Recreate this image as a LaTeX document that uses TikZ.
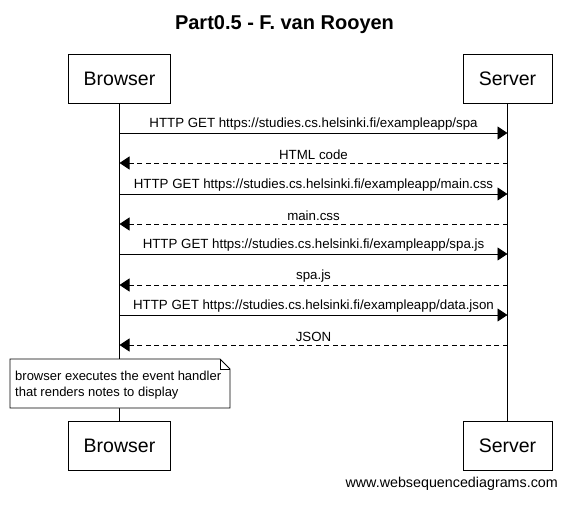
\documentclass[tikz,border=0pt]{standalone}
\usepackage{fontspec}
\setmainfont{Liberation Sans}
\usetikzlibrary{arrows.meta}
\usetikzlibrary{positioning}
\usetikzlibrary{shapes}

\begin{document}
\begin{tikzpicture}[x=1pt,y=-1pt,
    actor/.style={draw,line width=0.9pt,minimum height=49pt,inner sep=0pt,font=\fontsize{19.5}{23}\selectfont},
    msg/.style={line width=0.9pt,-{Triangle[length=10pt,width=13pt]}},
    reply/.style={msg,dash pattern=on 5pt off 3.5pt},
    mlabel/.style={above,inner sep=2.5pt,font=\fontsize{13.3}{15}\selectfont}]
  \useasboundingbox (0,0) rectangle (567,504);
  % title
  \node[anchor=base,inner sep=0pt,font=\bfseries\fontsize{20}{24}\selectfont] (title) at (284.5,29.5) {Part0.5 - F. van Rooyen};
  % actors
  \node[actor,minimum width=102pt] (bt) at (119.5,78.5) {Browser};
  \node[actor,minimum width=89pt] (st) at (507.5,78.5) {Server};
  \node[actor,minimum width=102pt] (bb) at (119.5,445.5) {Browser};
  \node[actor,minimum width=89pt] (sb) at (507.5,445.5) {Server};
  \draw[line width=0.9pt] (bt) -- (bb);
  \draw[line width=0.9pt] (st) -- (sb);
  % message points on the lifelines
  \foreach \i/\y in {1/133,2/163,3/194,4/224,5/254,6/285,7/315,8/345}{
    \coordinate (b\i) at (119.5,\y);
    \coordinate (s\i) at (507.5,\y);
  }
  \draw[msg] (b1) -- node[mlabel] {HTTP GET https://studies.cs.helsinki.fi/exampleapp/spa} (s1);
  \draw[reply] (s2) -- node[mlabel] {HTML code} (b2);
  \draw[msg] (b3) -- node[mlabel] {HTTP GET https://studies.cs.helsinki.fi/exampleapp/main.css} (s3);
  \draw[reply] (s4) -- node[mlabel] {main.css} (b4);
  \draw[msg] (b5) -- node[mlabel] {HTTP GET https://studies.cs.helsinki.fi/exampleapp/spa.js} (s5);
  \draw[reply] (s6) -- node[mlabel] {spa.js} (b6);
  \draw[msg] (b7) -- node[mlabel] {HTTP GET https://studies.cs.helsinki.fi/exampleapp/data.json} (s7);
  \draw[reply] (s8) -- node[mlabel] {JSON} (b8);
  % note
  \draw[line width=0.9pt,fill=white] (10,359) -- (220,359) -- (230,369) -- (230,408) -- (10,408) -- cycle;
  \draw[line width=0.6pt] (220,359) -- (220,369) -- (230,369);
  \node[anchor=base west,align=left,inner sep=0pt,font=\fontsize{13}{16}\selectfont] (note) at (15,396)
    {browser executes the event handler\\that renders notes to display};
  % watermark
  \node[anchor=base east,inner sep=0pt,font=\fontsize{14.3}{17}\selectfont] (wsd) at (558,487) {www.websequencediagrams.com};
\end{tikzpicture}
\end{document}
